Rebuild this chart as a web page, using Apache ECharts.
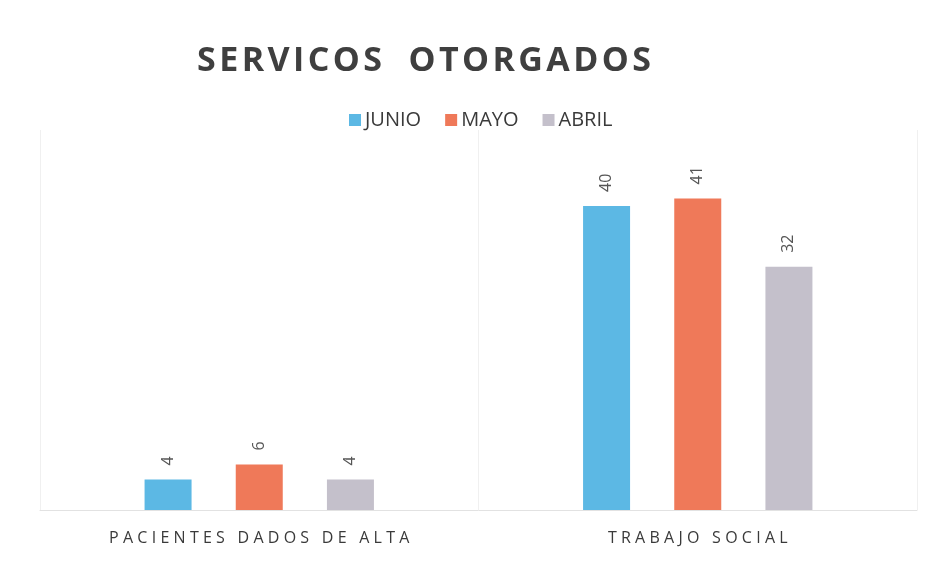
<!DOCTYPE html>
<html>
<head>
<meta charset="utf-8">
<script src="https://cdn.jsdelivr.net/npm/echarts@6/dist/echarts.min.js"></script>
<style>
  html, body { margin: 0; padding: 0; background: #fff; }
  #chart { width: 936px; height: 562px; }
</style>
</head>
<body>
<div id="chart"></div>
<script>
const categories = ['PACIENTES DADOS DE ALTA', 'TRABAJO SOCIAL'];
const monthNames = ['JUNIO', 'MAYO', 'ABRIL'];
const junio = [4, 40];
const mayo = [6, 41];
const abril = [4, 32];

const colors = ['#5cb8e4', '#ef7959', '#c4c0cb'];
const labelColor = '#555';

// spread letters apart, like the letter-spaced text of the original
function spaced(text, sep) {
  return text.split('').join(sep);
}

(function () {
  const el = document.getElementById('chart');
  const chart = echarts.init(el);

  const values = [junio, mayo, abril];
  const series = monthNames.map((name, i) => ({
    name,
    type: 'bar',
    data: values[i],
    barWidth: 47,
    barGap: '94%',
    itemStyle: { color: colors[i] },
    label: {
      show: true,
      position: 'top',
      rotate: 90,
      align: 'left',
      verticalAlign: 'middle',
      distance: 14,
      color: labelColor,
      fontSize: 16,
      fontFamily: 'Open Sans',
    },
  }));

  chart.setOption({
    animation: false,
    color: colors,
    title: {
      text: spaced('SERVICOS', '\u200A') + '   ' + spaced('OTORGADOS', '\u200A'),
      left: 419,
      top: 39,
      textAlign: 'center',
      textStyle: {
        color: '#3f3f3f',
        fontSize: 34,
        fontWeight: 'bold',
        fontFamily: 'Open Sans',
      },
    },
    legend: {
      top: 105,
      left: 344,
      itemWidth: 12,
      itemHeight: 12,
      itemGap: 24,
      icon: 'rect',
      textStyle: { color: '#3a3a3a', fontSize: 20, fontFamily: 'Open Sans', padding: [0, 0, 0, -1] },
    },
    grid: {
      left: 40,
      right: 19,
      top: 130,
      bottom: 52,
    },
    xAxis: {
      type: 'category',
      data: categories,
      axisLine: { lineStyle: { color: '#e2e2e2' } },
      axisTick: { show: false },
      splitLine: { show: true, lineStyle: { color: '#f0f0f0' } },
      axisLabel: {
        color: '#3a3a3a',
        fontSize: 16,
        fontFamily: 'Open Sans',
        margin: 20,
        formatter: (v) => spaced(v, '\u2009\u200A'),
      },
    },
    yAxis: {
      type: 'value',
      min: 0,
      max: 50,
      show: false,
      splitLine: { show: false },
    },
    series,
  });

  window.addEventListener('resize', () => chart.resize());
})();
</script>
</body>
</html>
